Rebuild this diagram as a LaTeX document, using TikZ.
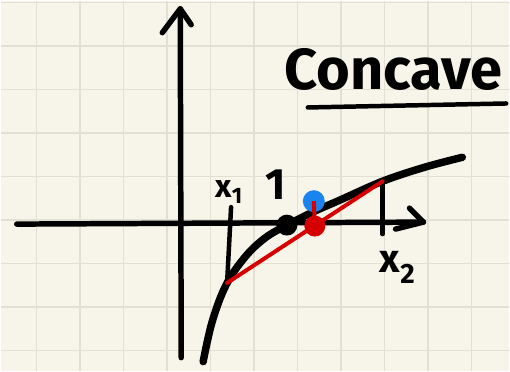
\documentclass[tikz,border=0pt]{standalone}
\usepackage{fontspec}
\setmainfont{Fira Sans}
\usetikzlibrary{arrows.meta,positioning,calc}
\definecolor{paper}{HTML}{F7F5E9}
\definecolor{gridline}{HTML}{E1E0D2}
\definecolor{chordred}{HTML}{D70000}
\definecolor{pointblue}{HTML}{1A84EE}

\begin{document}
\begin{tikzpicture}[x=1pt,y=-1pt,
  ink/.style={line width=5.5pt,line cap=round,line join=round},
  dot/.style={circle,inner sep=0pt,minimum size=#1},
  hand/.style={font=\bfseries,inner sep=0pt,anchor=base}]
% paper with grid
\fill[paper] (0,0) rectangle (510,371);
\foreach \k in {0,...,10}{
  \pgfmathsetmacro{\gx}{35.7+43.65*\k}
  \draw[gridline,line width=1.6pt] (\gx,0) -- (\gx,371);
}
\foreach \k in {0,...,8}{
  \pgfmathsetmacro{\gy}{1.7+43.65*\k}
  \draw[gridline,line width=1.6pt] (0,\gy) -- (510,\gy);
}
\useasboundingbox (0,0) rectangle (510,371);
% axes
\coordinate (ybot) at (181,358);
\coordinate (ytop) at (180,8);
\coordinate (xleft) at (16,224);
\coordinate (xright) at (424,222);
\draw[ink] (ybot) -- (ytop);
\draw[ink] (162,32) -- (ytop) -- (191,24);
\draw[ink] (xleft) -- (xright);
\draw[ink] (410,208) -- (xright) -- (396,229);
% concave curve
\draw[ink,line width=7.5pt] plot[smooth,tension=0.6] coordinates
  {(203,362) (212,322) (226,285) (245,257) (265,238) (287,225)
   (315,211) (340,200) (383,181) (425,167) (463,157)};
% chord end points
\coordinate (A) at (227,283);
\coordinate (B) at (383,181);
\coordinate (tA) at (231,207);
\coordinate (tB) at (383,234);
\draw[ink,line width=4.5pt] (tA) -- (A);
\draw[ink,line width=4.5pt] (B) -- (tB);
\draw[chordred,line width=4pt,line cap=round] (A) -- (B);
% points
\node[dot=21pt,fill=black] (C) at (287,225) {};
\node[dot=22pt,fill=pointblue] (N) at (314,201) {};
\node[dot=21pt,fill=chordred] (M) at (315,226) {};
\draw[chordred,line width=4pt] (M.center) -- (N.center);
% labels
\node[hand,font=\bfseries\fontsize{32}{34}\selectfont] (x1) at (229,197) {x\textsubscript{1}};
\node[hand,font=\bfseries\fontsize{44}{46}\selectfont] (one) at (276,199) {1};
\node[hand,font=\bfseries\fontsize{40}{42}\selectfont] (x2) at (398,273) {x\textsubscript{2}};
\node[hand,font=\bfseries\fontsize{58}{60}\selectfont] (title) at (394,89) {Concave};
\draw[ink,line width=4.5pt] (308,107) -- (507,103);
\end{tikzpicture}
\end{document}
